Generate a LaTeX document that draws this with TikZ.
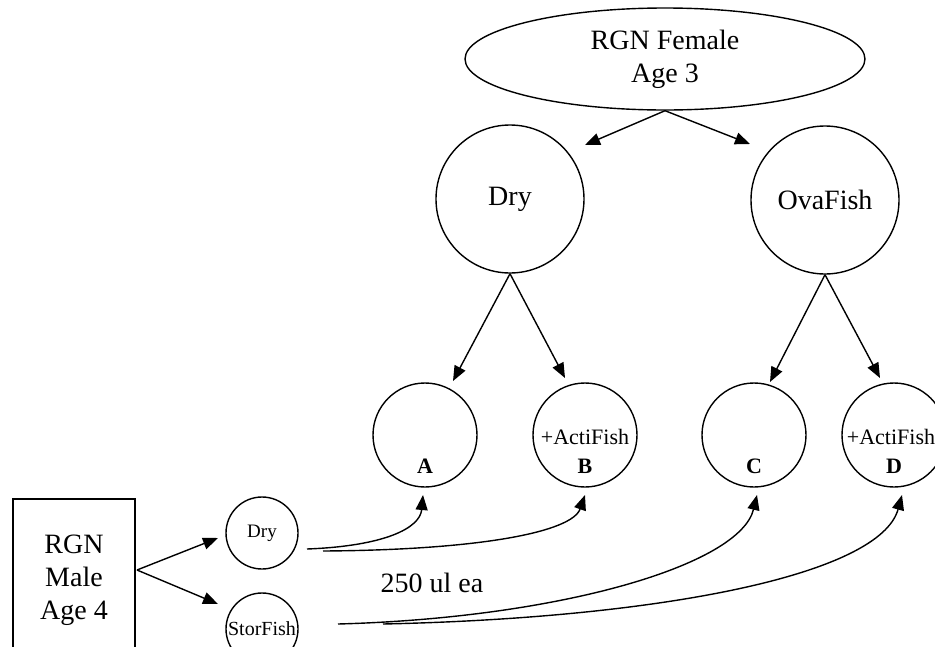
\documentclass[tikz,border=0pt]{standalone}
\usepackage{fontspec}
\setmainfont{Liberation Serif}
\usetikzlibrary{arrows.meta,shapes.geometric}
\begin{document}
\begin{tikzpicture}[x=1pt,y=-1pt,
  arr/.style={-{Triangle[length=15pt,width=12pt]}, line width=1.4pt},
  circ/.style={draw, circle, line width=1.4pt, inner sep=0pt},
  bigtxt/.style={font=\fontsize{28}{33}\selectfont},
  midtxt/.style={font=\fontsize{22}{26}\selectfont},
  boldtxt/.style={font=\fontsize{22}{26}\selectfont\bfseries},
  ]
\useasboundingbox (0,0) rectangle (935,646);
\clip (0,0) rectangle (935,646);
% top
\node[draw, ellipse, line width=1.4pt, minimum width=400pt, minimum height=102pt, inner sep=0pt, align=center, bigtxt] (fem) at (665,59) {RGN Female\\Age 3};
\node[circ, minimum size=148pt, bigtxt] (dry) at (510,199) {Dry};
\node[circ, minimum size=148pt, bigtxt] (ova) at (825,200) {OvaFish};
% bottom row
\node[circ, minimum size=104pt] (a) at (425,435) {};
\node[circ, minimum size=104pt] (b) at (585,435) {};
\node[circ, minimum size=104pt] (c) at (754,435) {};
\node[circ, minimum size=104pt] (d) at (894,435) {};
\node[boldtxt] (la) at (425,466) {A};
\node[boldtxt] (lb) at (585,466) {B};
\node[boldtxt] (lc) at (754,466) {C};
\node[boldtxt] (ld) at (894,466) {D};
\node[midtxt] (pb) at (585,437) {+ActiFish};
\node[midtxt] (pd) at (891,437) {+ActiFish};
% male
\node[draw, rectangle, line width=1.4pt, minimum width=122pt, minimum height=162pt, align=center, bigtxt] (male) at (74,580) {RGN\\Male\\Age 4};
\node[circ, minimum size=72pt, font=\fontsize{19}{22}\selectfont] (sdry) at (262,533) {Dry};
\node[circ, minimum size=72pt, font=\fontsize{20}{24}\selectfont] (stor) at (262,629) {StorFish};
\node[bigtxt] (vol) at (432,583) {250 ul ea};
% arrow end points
\coordinate (t1) at (585,145);
\coordinate (t2) at (750,144);
\coordinate (ta) at (453,381);
\coordinate (tb) at (565,378);
\coordinate (tc) at (770,382);
\coordinate (td) at (880,378);
\coordinate (bx) at (137,570);
\coordinate (tsd) at (218,538);
\coordinate (tst) at (218,604);
\coordinate (s1) at (307,549);
\coordinate (e1) at (423,495);
\coordinate (s2) at (323,551);
\coordinate (e2) at (585,495);
\coordinate (s3) at (338,624);
\coordinate (e3) at (757,495);
\coordinate (s4) at (383,624);
\coordinate (e4) at (902,495);
% connectors
\draw[arr] (fem.south) -- (t1);
\draw[arr] (fem.south) -- (t2);
\draw[arr] (dry.south) -- (ta);
\draw[arr] (dry.south) -- (tb);
\draw[arr] (ova.south) -- (tc);
\draw[arr] (ova.south) -- (td);
\draw[arr] (bx) -- (tsd);
\draw[arr] (bx) -- (tst);
\draw[arr] (s1) .. controls (385,546) and (420,528) .. (e1);
\draw[arr] (s2) .. controls (480,550) and (572,532) .. (e2);
\draw[arr] (s3) .. controls (560,618) and (740,565) .. (e3);
\draw[arr] (s4) .. controls (660,618) and (880,575) .. (e4);
\end{tikzpicture}
\end{document}
